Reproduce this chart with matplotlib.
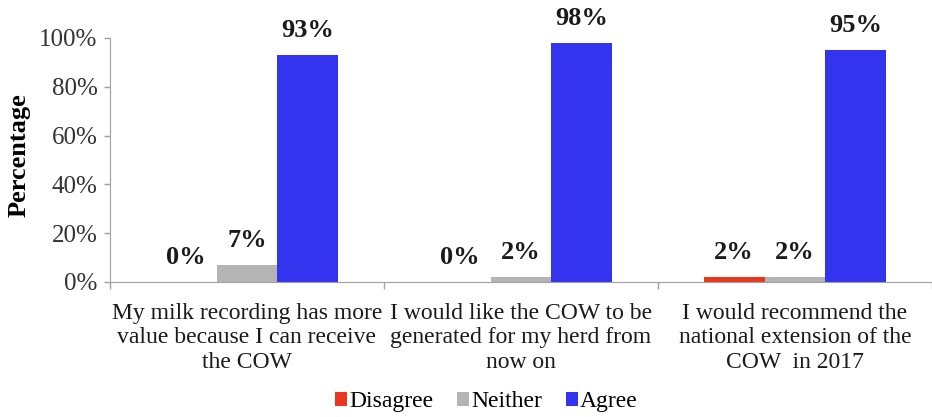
import matplotlib

matplotlib.use("Agg")
import matplotlib.pyplot as plt
import numpy as np
from matplotlib.ticker import PercentFormatter

CATEGORIES = [
    "My milk recording has more\nvalue because I can receive\nthe COW",
    "I would like the COW to be\ngenerated for my herd from\nnow on",
    "I would recommend the\nnational extension of the\nCOW  in 2017",
]
SERIES = ["Disagree", "Neither", "Agree"]
DISAGREE = [0, 0, 2]
NEITHER = [7, 2, 2]
AGREE = [93, 98, 95]
COLORS = ["#e8371e", "#b4b4b4", "#3434ee"]

plt.rcParams["font.family"] = ["Liberation Serif", "DejaVu Serif"]

fig = plt.figure(figsize=(9.32, 4.17), dpi=100)
ax = fig.add_axes([0.118, 0.324, 0.882, 0.585])

x = np.arange(len(CATEGORIES))
width = 0.222
handles = []
for i, (name, values, color) in enumerate(zip(SERIES, [DISAGREE, NEITHER, AGREE], COLORS)):
    pos = x + (i - 1) * width
    bars = ax.bar(pos, values, width=width, color=color, label=name)
    handles.append(bars)
    for px, v in zip(pos, values):
        ax.annotate(f"{v}%", (px, v), xytext=(0, 13), textcoords="offset points",
                    ha="center", va="baseline", fontsize=19, fontweight="bold",
                    color="#1a1a1a")

ax.set_xlim(-0.5, len(CATEGORIES) - 0.5)
ax.set_ylim(0, 100)
ax.set_yticks(range(0, 101, 20))
ax.yaxis.set_major_formatter(PercentFormatter(decimals=0))
ax.tick_params(axis="y", labelsize=18, length=4, color="#a0a0a0", width=1, pad=5,
               labelcolor="#333333")

# category labels between boundary ticks, the way spreadsheet charts draw them
ax.set_xticks(np.arange(len(CATEGORIES) + 1) - 0.5)
ax.set_xticklabels([])
ax.tick_params(axis="x", length=5, color="#a0a0a0", width=1)
for xi, label in zip(x, CATEGORIES):
    ax.text(xi, -0.085, label, transform=ax.get_xaxis_transform(), ha="center", va="top",
            fontsize=17, linespacing=1.22, color="#1a1a1a")

ax.set_ylabel("Percentage", fontsize=19, fontweight="bold")
ax.yaxis.set_label_coords(-0.097, 0.52)

for side in ["top", "right"]:
    ax.spines[side].set_visible(False)
for side in ["left", "bottom"]:
    ax.spines[side].set_color("#a0a0a0")

fig.legend(handles=handles, labels=SERIES, loc="center", bbox_to_anchor=(0.522, 0.036), ncol=3,
           frameon=False, fontsize=17, handlelength=0.5, handleheight=0.5, handletextpad=0.1,
           columnspacing=1.0, borderpad=0, borderaxespad=0)

fig.savefig("out.png", dpi=100)
